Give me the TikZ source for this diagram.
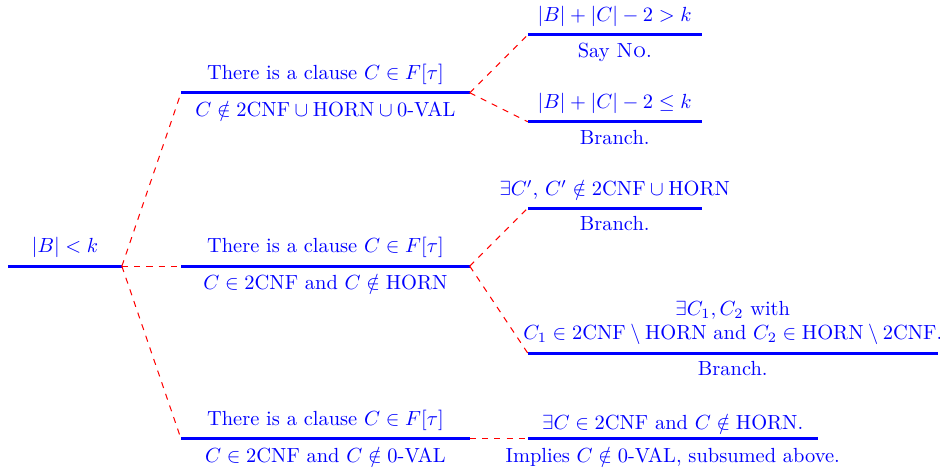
\documentclass[tikz,border=0pt]{standalone}
\usepackage{amsmath,amssymb}
\usepackage{tikz}

\begin{document}
\begin{tikzpicture}[
    scale=1.017,
    every node/.style={text=blue},
    branch/.style={draw=blue, line width=1.5pt},
    link/.style={draw=red, dashed, line width=0.5pt}
]
\useasboundingbox (0,0) rectangle (15.89,7.98);

\coordinate (root-l) at (0.14,3.48);
\coordinate (root-r) at (2.06,3.48);
\coordinate (a1-l) at (3.06,6.41);
\coordinate (a1-r) at (7.94,6.41);
\coordinate (b1-l) at (3.06,3.48);
\coordinate (b1-r) at (7.94,3.48);
\coordinate (c1-l) at (3.06,0.56);
\coordinate (c1-r) at (7.94,0.56);
\coordinate (a2-l) at (8.92,7.39);
\coordinate (a2-r) at (11.86,7.39);
\coordinate (a3-l) at (8.92,5.92);
\coordinate (a3-r) at (11.86,5.92);
\coordinate (b2-l) at (8.92,4.46);
\coordinate (b2-r) at (11.86,4.46);
\coordinate (b3-l) at (8.92,2.01);
\coordinate (b3-r) at (15.85,2.01);
\coordinate (c2-l) at (8.92,0.56);
\coordinate (c2-r) at (13.82,0.56);

\draw[branch] (root-l) -- node[above] (root) {$|B| < k$} (root-r);
\draw[branch] (a1-l) -- node[above] (a1) {There is a clause $C \in F[\tau]$}
    node[below] (a1-cond) {$C \notin \textrm{2CNF} \cup \textrm{HORN} \cup \textrm{0-VAL}$} (a1-r);
\draw[branch] (b1-l) -- node[above] (b1) {There is a clause $C \in F[\tau]$}
    node[below] (b1-cond) {$C \in \textrm{2CNF}$ and $C \notin \textrm{HORN}$} (b1-r);
\draw[branch] (c1-l) -- node[above] (c1) {There is a clause $C \in F[\tau]$}
    node[below] (c1-cond) {$C \in \textrm{2CNF}$ and $C \notin \textrm{0-VAL}$} (c1-r);
\draw[branch] (a2-l) -- node[above] (a2) {$|B| + |C| - 2 > k$}
    node[below] (a2-act) {Say \textsc{No}.} (a2-r);
\draw[branch] (a3-l) -- node[above] (a3) {$|B| + |C| - 2 \leq k$}
    node[below] (a3-act) {Branch.} (a3-r);
\draw[branch] (b2-l) -- node[above] (b2) {$\exists C'$, $C' \notin \textrm{2CNF} \cup \textrm{HORN}$}
    node[below] (b2-act) {Branch.} (b2-r);
\draw[branch] (b3-l) -- node[above, align=center] (b3) {$\exists C_1, C_2$ with\\
    $C_1 \in \textrm{2CNF} \setminus \textrm{HORN}$ and $C_2 \in \textrm{HORN} \setminus \textrm{2CNF}$.}
    node[below] (b3-act) {Branch.} (b3-r);
\draw[branch] (c2-l) -- node[above] (c2) {$\exists C \in \textrm{2CNF}$ and $C \notin \textrm{HORN}$.}
    node[below] (c2-act) {Implies $C \notin \textrm{0-VAL}$, subsumed above.} (c2-r);

\draw[link] (root-r) -- (a1-l);
\draw[link] (root-r) -- (b1-l);
\draw[link] (root-r) -- (c1-l);
\draw[link] (a1-r) -- (a2-l);
\draw[link] (a1-r) -- (a3-l);
\draw[link] (b1-r) -- (b2-l);
\draw[link] (b1-r) -- (b3-l);
\draw[link] (c1-r) -- (c2-l);
\end{tikzpicture}
\end{document}
